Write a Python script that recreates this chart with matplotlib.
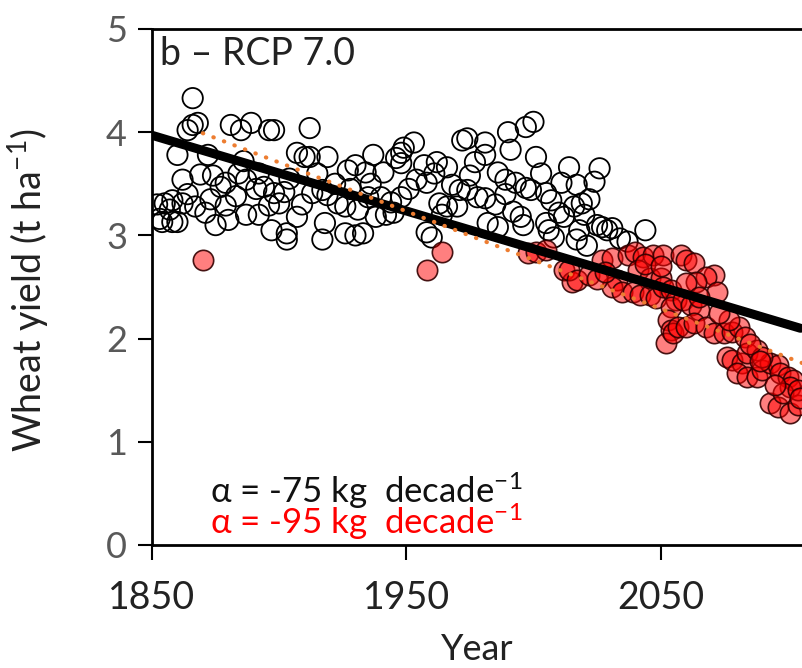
import numpy as np
import matplotlib
matplotlib.use('Agg')
import matplotlib.pyplot as plt

plt.rcParams['mathtext.fontset'] = 'custom'
plt.rcParams['mathtext.rm'] = 'Lato'
plt.rcParams['mathtext.it'] = 'Lato:italic'
plt.rcParams['mathtext.bf'] = 'Lato:bold'

# open circles (black)
black_year = [1866, 1866, 1868, 1864, 1860, 1862, 1869, 1855, 1858, 1862, 1854, 1858, 1860, 1871, 1875,
              1872, 1877, 1879, 1879, 1881, 1889, 1884, 1887, 1885, 1852, 1853, 1857, 1864, 1867, 1873,
              1874, 1883, 1887, 1891, 1880, 1892, 1886,
              1896, 1898, 1912, 1907, 1910, 1912, 1919, 1930, 1927, 1894, 1898, 1902, 1896, 1900, 1892,
              1907, 1897, 1903, 1903, 1913, 1917, 1919, 1918, 1917, 1926, 1930, 1923, 1926, 1904, 1909,
              1922, 1928, 1915,
              1953, 1949, 1948, 1937, 1972, 1946, 1948, 1957, 1962, 1966, 1934, 1941, 1954, 1958, 1968,
              1971, 1935, 1940, 1944, 1948, 1938, 1942, 1945, 1963, 1966, 1964, 1933, 1958, 1960, 1970,
              1951, 1936, 1931, 1961, 1975,
              2000, 1997, 1990, 1991, 2001, 1974, 1981, 1977, 1981, 2014, 1986, 1989, 1993, 1997, 1999,
              2005, 2011, 2007, 1974, 1978, 1981, 1992, 1995, 1996, 2010, 2012, 1982, 1986, 2008, 2005,
              2006, 1985, 2003, 1989,
              2017, 2024, 2019, 2016, 2025, 2027, 2029, 2031, 2018, 2021, 2017, 2034, 2037, 2044, 2022,
              2026, 2020]
black_yield = [4.33, 4.07, 4.09, 4.02, 3.78, 3.54, 3.59, 3.31, 3.34, 3.31, 3.13, 3.13, 3.13, 3.22, 3.10,
               3.78, 3.47, 3.51, 3.29, 4.07, 4.09, 3.60, 3.54, 4.02, 3.30, 3.16, 3.25, 3.40, 3.28, 3.35,
               3.58, 3.38, 3.20, 3.45, 3.15, 3.60, 3.72,
               4.02, 4.02, 4.04, 3.80, 3.76, 3.76, 3.76, 3.68, 3.63, 3.47, 3.41, 3.42, 3.29, 3.31, 3.20,
               3.18, 3.05, 3.02, 2.96, 3.41, 3.44, 3.39, 3.12, 2.96, 3.02, 3.00, 3.31, 3.28, 3.55, 3.30,
               3.50, 3.45, 3.60,
               3.90, 3.85, 3.80, 3.78, 3.92, 3.75, 3.70, 3.68, 3.71, 3.66, 3.61, 3.61, 3.54, 3.51, 3.49,
               3.44, 3.37, 3.37, 3.32, 3.37, 3.18, 3.20, 3.22, 3.31, 3.28, 3.20, 3.02, 3.03, 2.98, 3.28,
               3.45, 3.50, 3.25, 3.60, 3.58,
               4.10, 4.05, 4.00, 3.83, 3.76, 3.94, 3.90, 3.71, 3.78, 3.66, 3.61, 3.54, 3.51, 3.46, 3.44,
               3.41, 3.51, 3.34, 3.44, 3.37, 3.36, 3.23, 3.18, 3.10, 3.22, 3.18, 3.12, 3.08, 2.98, 3.12,
               3.05, 3.30, 3.60, 3.40,
               3.49, 3.52, 3.31, 3.28, 3.10, 3.08, 3.05, 3.07, 3.05, 2.90, 2.96, 2.97, 2.94, 3.05, 3.35,
               3.65, 3.20]

# filled circles (red)
red_year = [1870, 1964, 1958, 1998, 2001, 2005, 2012, 2015, 2014, 2017, 2027, 2031, 2037, 2040, 2043,
            2047, 2051, 2033, 2031, 2035, 2039, 2042, 2046, 2048, 2041, 2046, 2050, 2058, 2051, 2054,
            2056, 2054, 2053, 2054, 2052, 2055, 2057, 2060, 2063, 2071, 2068, 2064, 2060, 2072, 2059,
            2062, 2065, 2060, 2063, 2068, 2071, 2075, 2078, 2081, 2083, 2077, 2076, 2078, 2082, 2080,
            2084, 2088, 2090, 2093, 2096, 2097, 2100, 2102, 2101, 2084, 2088, 2090, 2093, 2096, 2098,
            2101, 2104, 2104, 2022, 2025, 2028, 2044, 2050, 2065, 2073, 2085, 2089, 2095, 2105]
red_yield = [2.76, 2.84, 2.66, 2.83, 2.84, 2.86, 2.66, 2.55, 2.66, 2.57, 2.76, 2.78, 2.81, 2.84, 2.79,
             2.81, 2.81, 2.57, 2.50, 2.45, 2.45, 2.42, 2.42, 2.39, 2.66, 2.59, 2.59, 2.81, 2.50, 2.47,
             2.37, 2.31, 2.18, 2.08, 1.96, 2.05, 2.11, 2.76, 2.73, 2.62, 2.60, 2.55, 2.54, 2.45, 2.37,
             2.33, 2.28, 2.11, 2.15, 2.11, 2.05, 2.05, 2.06, 2.11, 2.02, 2.18, 1.82, 1.79, 1.76, 1.67,
             1.63, 1.63, 1.70, 1.76, 1.74, 1.67, 1.63, 1.60, 1.53, 1.86, 1.89, 1.82, 1.38, 1.34, 1.47,
             1.28, 1.36, 1.50, 2.62, 2.58, 2.65, 2.72, 2.70, 2.40, 2.25, 1.95, 1.78, 1.55, 1.42]

# trend lines (end points)
trend_year = [1850, 2105]
trend_yield = [3.97, 2.10]
trend2_year = [1870, 2106]
trend2_yield = [3.99, 1.76]

fig = plt.figure(figsize=(8.02, 6.68), dpi=100)
ax = fig.add_axes([152/802, 1 - 545/668, 650/802, 516/668])

ax.scatter(black_year, black_yield, s=215, facecolors='none', edgecolors='black', linewidths=1.3, zorder=2)
ax.scatter(red_year, red_yield, s=215, facecolors=(1, 0, 0, 0.5), edgecolors=(0.2, 0, 0, 0.9),
           linewidths=1.2, zorder=3)
ax.plot(trend_year, trend_yield, color='black', lw=6.5, solid_capstyle='round', zorder=4)
ax.plot(trend2_year, trend2_yield, color='#ED7D31', lw=3, linestyle=(0, (0.1, 2.6)),
        dash_capstyle='round', zorder=5)

ax.set_xlim(1850, 1850 + 650/2.543)
ax.set_ylim(0, 5)
ax.set_xticks([1850, 1950, 2050])
ax.set_yticks([0, 1, 2, 3, 4, 5])

for s in ['left', 'bottom', 'top']:
    ax.spines[s].set_linewidth(2)
    ax.spines[s].set_color('black')
ax.spines['right'].set_visible(False)

ax.tick_params(axis='y', direction='out', length=10, width=1.5, pad=8, labelsize=26,
               labelcolor='#595959', labelfontfamily='Lato')
ax.tick_params(axis='x', direction='out', length=11, width=1.5, pad=14, labelsize=27,
               labelcolor='#222222', labelfontfamily='Lato')

ax.set_ylabel('Wheat yield (t ha$^{-1}$)', fontsize=27, family='Lato', color='#222222')
ax.yaxis.set_label_coords(-0.155, 0.494)
ax.set_xlabel('Year', fontsize=26, family='Lato', color='#222222', va='baseline')
ax.xaxis.set_label_coords(0.5, -0.222)

ax.text(0.012, 0.930, 'b – RCP 7.0', transform=ax.transAxes, fontsize=27, family='Lato',
        va='baseline', ha='left', color='#222222')
ax.text(0.089, 0.081, 'α = -75 kg  decade$^{-1}$', transform=ax.transAxes, fontsize=25,
        family='Lato', va='baseline', ha='left', color='#111111')
ax.text(0.089, 0.022, 'α = -95 kg  decade$^{-1}$', transform=ax.transAxes, fontsize=25,
        family='Lato', va='baseline', ha='left', color='#FF0000')

plt.savefig('out.png', dpi=100)
